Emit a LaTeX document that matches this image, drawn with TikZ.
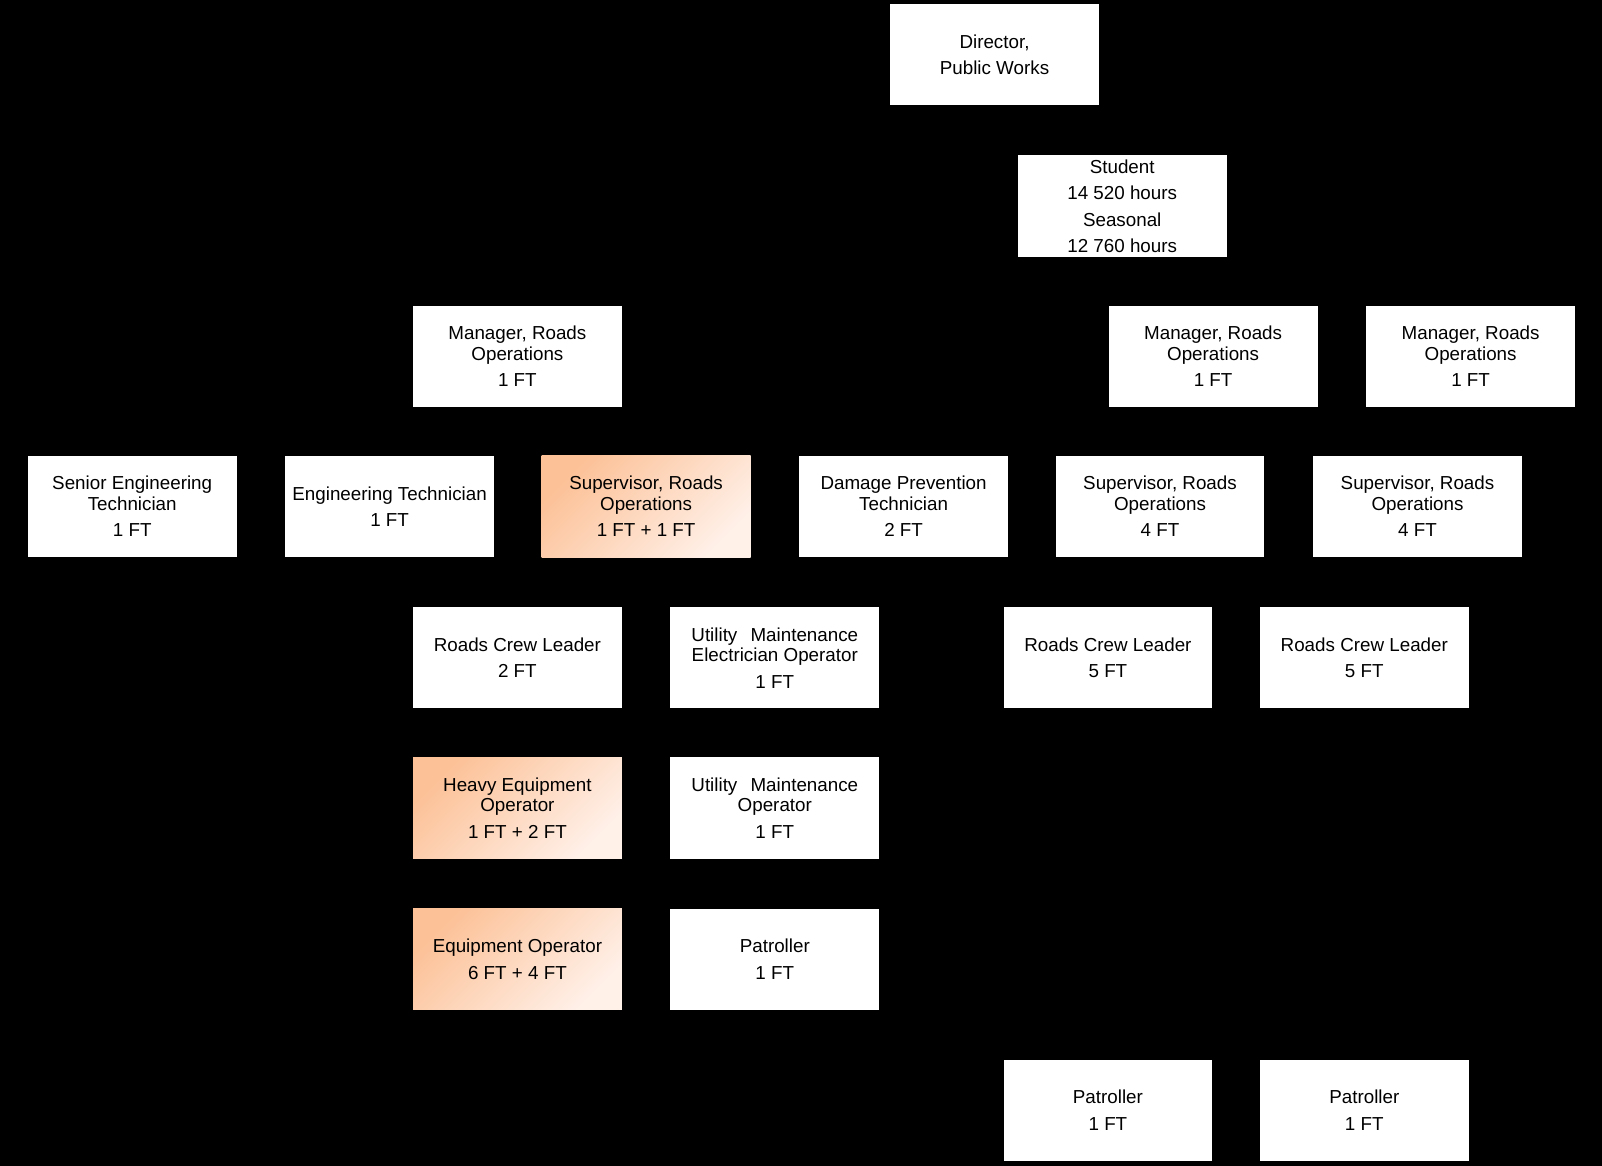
\documentclass[tikz,border=0pt]{standalone}
\usepackage{fontspec}
\setmainfont{Liberation Sans}
\definecolor{orA}{HTML}{FCC197}
\definecolor{orB}{HTML}{FFF0E8}
\tikzset{
  x=1pt, y=-1pt,
  box/.style={draw=none, fill=white, anchor=north west, minimum width=208.8pt,
    minimum height=101.2pt, inner sep=0pt, align=center, text=black,
    font=\fontsize{18.8}{20.5}\selectfont},
  hot/.style={box, top color=orA, bottom color=orB, shading angle=45}
}
\newcommand{\ftgap}{\\[6pt]}
\newcommand{\umgap}{Utility\hspace{0.7em}Maintenance}
\begin{document}
\begin{tikzpicture}
\fill[black] (0,0) rectangle (1602,1166);
\useasboundingbox (0,0) rectangle (1602,1166);
% row 1-2
\node[box] (dir) at (889.9,4.1) {Director,\ftgap Public Works};
\node[box] (stu) at (1017.6,155.3) {Student\ftgap 14 520 hours\ftgap Seasonal\ftgap 12 760 hours};
% managers
\node[box] (man1) at (412.8,305.5) {Manager, Roads\\Operations\ftgap 1 FT};
\node[box] (man2) at (1108.5,305.5) {Manager, Roads\\Operations\ftgap 1 FT};
\node[box] (man3) at (1366.0,305.5) {Manager, Roads\\Operations\ftgap 1 FT};
% row 4
\node[box] (set) at (27.6,455.7) {Senior Engineering\\Technician\ftgap 1 FT};
\node[box] (et) at (285.0,455.7) {Engineering Technician\ftgap 1 FT};
\node[hot] (sup1) at (541.5,455.7) {Supervisor, Roads\\Operations\ftgap 1 FT + 1 FT};
\node[box] (dpt) at (799.0,455.7) {Damage Prevention\\Technician\ftgap 2 FT};
\node[box] (sup2) at (1055.4,455.7) {Supervisor, Roads\\Operations\ftgap 4 FT};
\node[box] (sup3) at (1312.9,455.7) {Supervisor, Roads\\Operations\ftgap 4 FT};
% row 5
\node[box] (rcl1) at (412.8,606.9) {Roads Crew Leader\ftgap 2 FT};
\node[box] (umeo) at (670.2,606.9) {\umgap\\Electrician Operator\ftgap 1 FT};
\node[box] (rcl2) at (1003.3,606.9) {Roads Crew Leader\ftgap 5 FT};
\node[box] (rcl3) at (1259.7,606.9) {Roads Crew Leader\ftgap 5 FT};
% row 6
\node[hot] (heo) at (412.8,757.1) {Heavy Equipment\\Operator\ftgap 1 FT + 2 FT};
\node[box] (umo) at (670.2,757.1) {\umgap\\Operator\ftgap 1 FT};
% row 7
\node[hot] (eo) at (412.8,908.3) {Equipment Operator\ftgap 6 FT + 4 FT};
\node[box] (pat1) at (670.2,908.3) {Patroller\ftgap 1 FT};
% row 8
\node[box] (pat2) at (1003.3,1059.5) {Patroller\ftgap 1 FT};
\node[box] (pat3) at (1259.7,1059.5) {Patroller\ftgap 1 FT};
\end{tikzpicture}
\end{document}
